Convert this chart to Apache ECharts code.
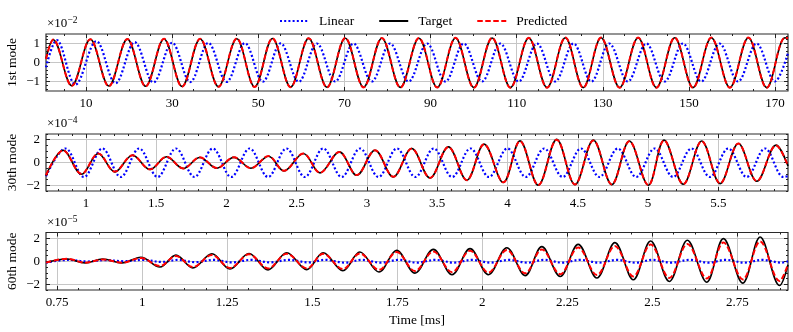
<!DOCTYPE html>
<html><head><meta charset="utf-8">
<script src="https://cdn.jsdelivr.net/npm/echarts@6/dist/echarts.min.js"></script>
<style>html,body{margin:0;padding:0;background:#fff}#c{width:793px;height:332px}</style>
</head><body><div id="c"></div>
<script>
// ---------- Panel 1: 1st mode (x10^-2) ----------
const p1Time = [0.71, 2.4, 6.7, 11.0, 15.3, 19.6, 23.85, 28.1, 32.3, 36.5, 40.75, 45.0, 49.15, 53.3, 57.5, 61.7, 65.95, 70.2, 74.45, 78.7, 83.0, 87.3, 91.55, 95.8, 100.05, 104.3, 108.55, 112.8, 117.05, 121.3, 125.45, 129.6, 133.9, 138.2, 142.45, 146.7, 150.95, 155.2, 159.5, 163.8, 168.05, 172.3, 173.0];
const p1Target = [0.2, 1.2,-1.22, 1.22,-1.24, 1.23,-1.25, 1.24,-1.26, 1.24,-1.27, 1.25,-1.28, 1.26,-1.29, 1.27,-1.3, 1.28,-1.3, 1.28,-1.31, 1.28,-1.31, 1.29,-1.32, 1.29,-1.32, 1.29,-1.32, 1.3,-1.32, 1.3,-1.32, 1.3,-1.32, 1.3,-1.32, 1.3,-1.32, 1.3,-1.32, 1.3, 1.27];
const p1Predicted = [0.18, 1.21,-1.23, 1.23,-1.25, 1.24,-1.26, 1.25,-1.27, 1.25,-1.28, 1.26,-1.29, 1.27,-1.3, 1.28,-1.31, 1.29,-1.31, 1.29,-1.32, 1.29,-1.32, 1.3,-1.33, 1.3,-1.33, 1.3,-1.33, 1.31,-1.33, 1.31,-1.33, 1.31,-1.33, 1.31,-1.33, 1.31,-1.33, 1.31,-1.33, 1.31, 1.28];
const p1LinearTime = [0.71, 3.2, 7.55, 12.4, 16.85, 21.3, 25.65, 30.0, 34.2, 38.4, 42.65, 46.9, 51.05, 55.2, 59.4, 63.6, 67.85, 72.1, 76.35, 80.6, 84.9, 89.2, 93.45, 97.7, 101.95, 106.2, 110.45, 114.7, 118.95, 123.2, 127.35, 131.5, 135.8, 140.1, 144.35, 148.6, 152.85, 157.1, 161.4, 165.7, 169.95, 173.0];
const p1Linear = [-0.25, 1.18,-1.16, 1.12,-1.09, 1.07,-1.05, 1.04,-1.03, 1.03,-1.02, 1.02,-1.01, 1.01,-1.01, 1.0,-1.0, 1.0,-1.0, 1.0,-1.0, 1.0,-1.0, 1.0,-1.0, 1.0,-1.0, 1.0,-1.0, 1.0,-1.0, 1.0,-1.0, 1.0,-1.0, 1.0,-1.0, 1.0,-1.0, 1.0,-1.0, 0.5];
const p1XLabels = [10, 30, 50, 70, 90, 110, 130, 150, 170];
const p1YLabels = [-1, 0, 1];

// ---------- Panel 2: 30th mode (x10^-4) ----------
const p2Time = [0.716, 0.838, 0.969, 1.088, 1.206, 1.332, 1.456, 1.574, 1.693, 1.811, 1.932, 2.053, 2.174, 2.299, 2.409, 2.547, 2.666, 2.803, 2.927, 3.057, 3.187, 3.318, 3.448, 3.579, 3.710, 3.833, 3.970, 4.089, 4.219, 4.350, 4.480, 4.611, 4.742, 4.867, 5.002, 5.114, 5.251, 5.382, 5.513, 5.643, 5.774, 5.911, 5.996];
const p2Target = [-1.15, 1.08,-1.03, 0.79,-0.83, 0.64,-0.62, 0.5,-0.53, 0.44,-0.5, 0.45,-0.5, 0.55,-0.74, 0.79,-0.91, 0.93,-1.12, 1.08,-1.27, 1.23,-1.36, 1.37,-1.56, 1.61,-1.76, 1.9,-2.0, 2.03,-1.94, 1.96,-1.94, 1.88,-2.0, 1.96,-1.91, 1.88,-1.85, 1.67,-1.65, 1.52, -0.3];
const p2Predicted = [-1.12, 1.06,-1.0, 0.8,-0.8, 0.63,-0.6, 0.5,-0.52, 0.45,-0.48, 0.46,-0.5, 0.56,-0.72, 0.78,-0.9, 0.92,-1.1, 1.07,-1.25, 1.22,-1.35, 1.36,-1.55, 1.6,-1.74, 1.88,-1.98, 2.0,-1.92, 1.94,-1.92, 1.87,-1.98, 1.94,-1.9, 1.86,-1.83, 1.66,-1.63, 1.5, -0.3];
const p2LinearTime = [0.716, 0.855, 0.986, 1.117, 1.248, 1.379, 1.51, 1.641, 1.772, 1.903, 2.034, 2.165, 2.296, 2.427, 2.558, 2.689, 2.82, 2.951, 3.082, 3.213, 3.344, 3.475, 3.606, 3.737, 3.868, 3.999, 4.13, 4.261, 4.392, 4.523, 4.654, 4.785, 4.916, 5.047, 5.178, 5.309, 5.44, 5.571, 5.702, 5.833, 5.964, 5.996];
const p2Linear = [-1.2, 1.23,-1.27, 1.23,-1.27, 1.23,-1.27, 1.23,-1.27, 1.23,-1.27, 1.23,-1.27, 1.23,-1.27, 1.23,-1.27, 1.23,-1.27, 1.23,-1.27, 1.23,-1.27, 1.23,-1.27, 1.23,-1.27, 1.23,-1.27, 1.23,-1.27, 1.23,-1.27, 1.23,-1.27, 1.23,-1.27, 1.23,-1.27, 1.23,-1.27, -1.2];
const p2XLabels = [1, 1.5, 2, 2.5, 3, 3.5, 4, 4.5, 5, 5.5];
const p2YLabels = [-2, 0, 2];

// ---------- Panel 3: 60th mode (x10^-5) ----------
const p3Time = [0.717, 0.779, 0.832, 0.884, 0.940, 0.996, 1.052, 1.099, 1.149, 1.205, 1.258, 1.314, 1.370, 1.425, 1.484, 1.532, 1.590, 1.640, 1.696, 1.748, 1.802, 1.856, 1.911, 1.964, 2.018, 2.072, 2.126, 2.175, 2.229, 2.282, 2.337, 2.390, 2.444, 2.495, 2.550, 2.603, 2.660, 2.709, 2.766, 2.817, 2.874, 2.899];
const p3Target = [-0.1, 0.2,-0.15, 0.2,-0.15, 0.35,-0.5, 0.53,-0.58, 0.65,-0.67, 0.68,-0.75, 0.74,-0.73, 0.74,-0.82, 0.8,-0.94, 0.95,-1.03, 1.03,-1.17, 1.1,-1.17, 1.18,-1.25, 1.27,-1.32, 1.47,-1.46, 1.62,-1.61, 1.76,-1.76, 1.82,-1.82, 1.97,-1.9, 2.11,-2.11, -0.3];
const p3Predicted = [-0.12, 0.22,-0.12, 0.15,-0.12, 0.28,-0.42, 0.45,-0.5, 0.55,-0.58, 0.6,-0.62, 0.65,-0.62, 0.65,-0.68, 0.68,-0.75, 0.8,-0.85, 0.85,-0.95, 0.92,-0.98, 0.98,-1.05, 1.03,-1.12, 1.2,-1.2, 1.32,-1.32, 1.45,-1.45, 1.5,-1.5, 1.62,-1.58, 1.72,-1.72, -0.25];
const p3LinearTime = [0.717, 0.785, 0.838, 0.89, 0.946, 1.002, 1.058, 1.105, 1.155, 1.211, 1.264, 1.32, 1.376, 1.431, 1.49, 1.538, 1.596, 1.646, 1.702, 1.754, 1.808, 1.862, 1.917, 1.97, 2.024, 2.078, 2.132, 2.181, 2.235, 2.288, 2.343, 2.396, 2.45, 2.501, 2.556, 2.609, 2.666, 2.715, 2.772, 2.823, 2.88, 2.899];
const p3Linear = [-0.12, 0.12,-0.02, 0.1, 0.0, 0.12,-0.06, 0.12,-0.08, 0.12,-0.1, 0.12,-0.1, 0.12,-0.1, 0.12,-0.12, 0.12,-0.12, 0.12,-0.12, 0.12,-0.12, 0.12,-0.12, 0.12,-0.12, 0.12,-0.12, 0.12,-0.12, 0.12,-0.12, 0.12,-0.12, 0.12,-0.12, 0.12,-0.12, 0.12,-0.12, 0.0];
const p3XLabels = [0.75, 1, 1.25, 1.5, 1.75, 2, 2.25, 2.5, 2.75];
const p3YLabels = [-2, 0, 2];

const modeNames = ['1st mode', '30th mode', '60th mode'];
const exponents = ['\u22122', '\u22124', '\u22125'];
const seriesNames = ['Linear', 'Target', 'Predicted'];
const xTitle = 'Time [ms]';

// ---------- helpers ----------
const FONT = "'Liberation Serif','Times New Roman',serif";
function zip(xs, ys) { return xs.map((x, i) => [x, ys[i]]); }
function range(a, b, step) { const out = []; const n = Math.round((b - a) / step); for (let i = 0; i <= n; i++) out.push(+(a + i * step).toFixed(6)); return out; }
function fmt(v) { return v < 0 ? '\u2212' + String(-v) : String(v); }

const panels = [
  { top: 34, height: 57, xMin: 0.71, xMax: 173, yMin: -1.5, yMax: 1.5,
    xMaj: p1XLabels, xMinor: range(5, 170, 5), yMaj: p1YLabels, yMinor: range(-1.4, 1.4, 0.2),
    lin: [p1LinearTime, p1Linear], tgt: [p1Time, p1Target], prd: [p1Time, p1Predicted] },
  { top: 134, height: 57, xMin: 0.716, xMax: 5.996, yMin: -2.5, yMax: 2.5,
    xMaj: p2XLabels, xMinor: range(0.8, 5.9, 0.1), yMaj: p2YLabels, yMinor: range(-2.5, 2.5, 0.5),
    lin: [p2LinearTime, p2Linear], tgt: [p2Time, p2Target], prd: [p2Time, p2Predicted] },
  { top: 232.5, height: 57.5, xMin: 0.717, xMax: 2.899, yMin: -2.5, yMax: 2.5,
    xMaj: p3XLabels, xMinor: range(0.75, 2.875, 0.0625), yMaj: p3YLabels, yMinor: range(-2.5, 2.5, 0.5),
    lin: [p3LinearTime, p3Linear], tgt: [p3Time, p3Target], prd: [p3Time, p3Predicted] }
];

const LEFT = 46, WIDTH = 742;
const TICK = '#222';
const labelStyle = { fontFamily: FONT, fontSize: 13, color: '#000' };

function axis(dim, g, min, max, values, len, main, pos) {
  return {
    type: 'value', gridIndex: g, min, max, position: pos,
    axisLine: { show: false, onZero: false },
    axisTick: { show: true, inside: true, length: len, customValues: values, lineStyle: { color: TICK, width: 1 } },
    axisLabel: main ? Object.assign({ show: true, customValues: values, formatter: fmt, margin: dim === 'x' ? 6 : 6 }, labelStyle) : { show: false },
    splitLine: main ? { show: true, lineStyle: { color: '#c6c6c6', width: 1 } } : { show: false },
    minorTick: { show: false }, minorSplitLine: { show: false }
  };
}

const grid = [], xAxis = [], yAxis = [], series = [], graphic = [];
panels.forEach((p, g) => {
  grid.push({ left: LEFT, top: p.top, width: WIDTH, height: p.height, show: true,
    borderColor: '#2a2a2a', borderWidth: 1.2, backgroundColor: 'transparent', containLabel: false });
  xAxis.push(axis('x', g, p.xMin, p.xMax, p.xMaj, 4, true, 'bottom'));
  xAxis.push(axis('x', g, p.xMin, p.xMax, p.xMinor, 2, false, 'bottom'));
  xAxis.push(axis('x', g, p.xMin, p.xMax, p.xMaj, 4, false, 'top'));
  xAxis.push(axis('x', g, p.xMin, p.xMax, p.xMinor, 2, false, 'top'));
  yAxis.push(axis('y', g, p.yMin, p.yMax, p.yMaj, 4, true, 'left'));
  yAxis.push(axis('y', g, p.yMin, p.yMax, p.yMinor, 2, false, 'left'));
  yAxis.push(axis('y', g, p.yMin, p.yMax, p.yMaj, 4, false, 'right'));
  yAxis.push(axis('y', g, p.yMin, p.yMax, p.yMinor, 2, false, 'right'));
  const base = { type: 'line', xAxisIndex: 4 * g, yAxisIndex: 4 * g, showSymbol: false, symbol: 'none',
    smooth: 0.36, animation: false, silent: true, clip: true };
  series.push(Object.assign({}, base, { name: seriesNames[0], data: zip(p.lin[0], p.lin[1]), z: 2,
    lineStyle: { color: '#0000ff', width: 2.2, type: [2, 2.2] }, itemStyle: { color: '#0000ff' } }));
  series.push(Object.assign({}, base, { name: seriesNames[1], data: zip(p.tgt[0], p.tgt[1]), z: 3,
    lineStyle: { color: '#000000', width: 1.6, type: 'solid' }, itemStyle: { color: '#000000' } }));
  series.push(Object.assign({}, base, { name: seriesNames[2], data: zip(p.prd[0], p.prd[1]), z: 4,
    lineStyle: { color: '#ff0000', width: 2, type: [5.5, 2.5] }, itemStyle: { color: '#ff0000' } }));
  graphic.push({ type: 'text', x: 12, y: p.top + p.height / 2, rotation: Math.PI / 2,
    style: { text: modeNames[g], font: '13.5px ' + FONT, fill: '#000', align: 'center', verticalAlign: 'middle', textAlign: 'center', textVerticalAlign: 'middle' } });
  graphic.push({ type: 'text', x: 47, y: p.top - 10,
    style: { text: '\u00d710', font: '13px ' + FONT, fill: '#000', align: 'left', verticalAlign: 'middle', textAlign: 'left', textVerticalAlign: 'middle' } });
  graphic.push({ type: 'text', x: 67.5, y: p.top - 13.5,
    style: { text: exponents[g], font: '9.5px ' + FONT, fill: '#000', align: 'left', verticalAlign: 'middle', textAlign: 'left', textVerticalAlign: 'middle' } });
});
graphic.push({ type: 'text', x: 417, y: 320,
  style: { text: xTitle, font: '13.5px ' + FONT, fill: '#000', align: 'center', verticalAlign: 'middle', textAlign: 'center', textVerticalAlign: 'middle' } });

const chart = echarts.init(document.getElementById('c'), null, { renderer: 'canvas' });
chart.setOption({
  animation: false,
  backgroundColor: '#fff',
  legend: {
    data: seriesNames, left: 274, top: 9, itemWidth: 29, itemHeight: 14, itemGap: 24,
    textStyle: { fontFamily: FONT, fontSize: 13.5, color: '#000', padding: [0, 0, 0, 5] },
    itemStyle: { opacity: 0 }, selectedMode: false
  },
  grid, xAxis, yAxis, series, graphic
});
</script>
</body></html>
